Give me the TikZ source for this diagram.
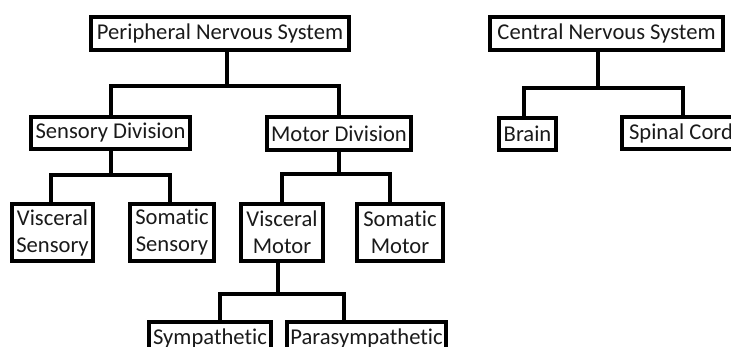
\documentclass[tikz,border=0pt]{standalone}
\usepackage{fontspec}
\setmainfont[Ligatures=NoCommon]{Carlito}
\usetikzlibrary{positioning,calc}
\definecolor{nsline}{HTML}{000000}
\definecolor{nstext}{HTML}{1A1A1A}

\begin{document}
\begin{tikzpicture}[x=1pt,y=-1pt,
    box/.style={draw=nsline,line width=4pt,fill=white,inner sep=0pt,
      text=nstext,font=\fontsize{22.6}{27}\selectfont,align=center},
    link/.style={draw=nsline,line width=4pt}]

  \useasboundingbox (0,0) rectangle (731,347);
  \clip (0,0) rectangle (731,347);

  % ---- Peripheral side ----------------------------------------
  \node[box,minimum width=258pt,minimum height=33pt] (pns) at (220,33.5)
    {Peripheral Nervous System};
  \node[box,minimum width=159pt,minimum height=32pt] (sens) at (110.5,133)
    {Sensory Division};
  \node[box,minimum width=144pt,minimum height=33pt] (mot) at (339,133.5)
    {Motor Division};

  % sensory leaves
  \node[box,minimum width=81pt,minimum height=57pt] (visens) at (52.5,232.5)
    {Visceral\\Sensory};
  \node[box,minimum width=84pt,minimum height=57pt] (somsens) at (172,232.5)
    {Somatic\\Sensory};

  % motor leaves
  \node[box,minimum width=82pt,minimum height=57pt] (vismot) at (282,232.5)
    {Visceral\\Motor};
  \node[box,minimum width=86pt,minimum height=57pt] (sommot) at (400,232.5)
    {Somatic\\Motor};

  % autonomic
  \node[box,minimum width=122pt,minimum height=33pt] (symp) at (210,338.5)
    {Sympathetic};
  \node[box,minimum width=159pt,minimum height=33pt] (para) at (366.5,338.5)
    {Parasympathetic};

  % ---- Central side -------------------------------------------
  \node[box,minimum width=233pt,minimum height=33pt] (cns) at (606.5,33.5)
    {Central Nervous System};
  \node[box,minimum width=57pt,minimum height=32pt] (brain) at (527.5,134)
    {Brain};
  \node[box,minimum width=118pt,minimum height=32pt] (spinal) at (681,133)
    {Spinal Cord};

  % ---- Connectors ---------------------------------------------
  \draw[link] ([xshift=7pt]pns.south) -- ([xshift=7pt]pns.south |- 0,86);
  \draw[link] (sens.north) |- (mot.north |- 0,86) -- (mot.north);

  \draw[link] (sens.south) -- (sens.south |- 0,175);
  \draw[link] ([xshift=-2pt]visens.north) |- ([xshift=-2pt]somsens.north |- 0,175)
    -- ([xshift=-2pt]somsens.north);

  \draw[link] (mot.south) -- (mot.south |- 0,174);
  \draw[link] (vismot.north) |- ([xshift=-10pt]sommot.north |- 0,174)
    -- ([xshift=-10pt]sommot.north);

  \draw[link] ([xshift=-4pt]vismot.south) -- ([xshift=-4pt]vismot.south |- 0,294);
  \draw[link] ([xshift=10pt]symp.north) |- ([xshift=-23pt]para.north |- 0,294)
    -- ([xshift=-23pt]para.north);

  \draw[link] ([xshift=-8.5pt]cns.south) -- ([xshift=-8.5pt]cns.south |- 0,88);
  \draw[link] ([xshift=-4pt]brain.north) |- ([xshift=2pt]spinal.north |- 0,88)
    -- ([xshift=2pt]spinal.north);

\end{tikzpicture}
\end{document}
